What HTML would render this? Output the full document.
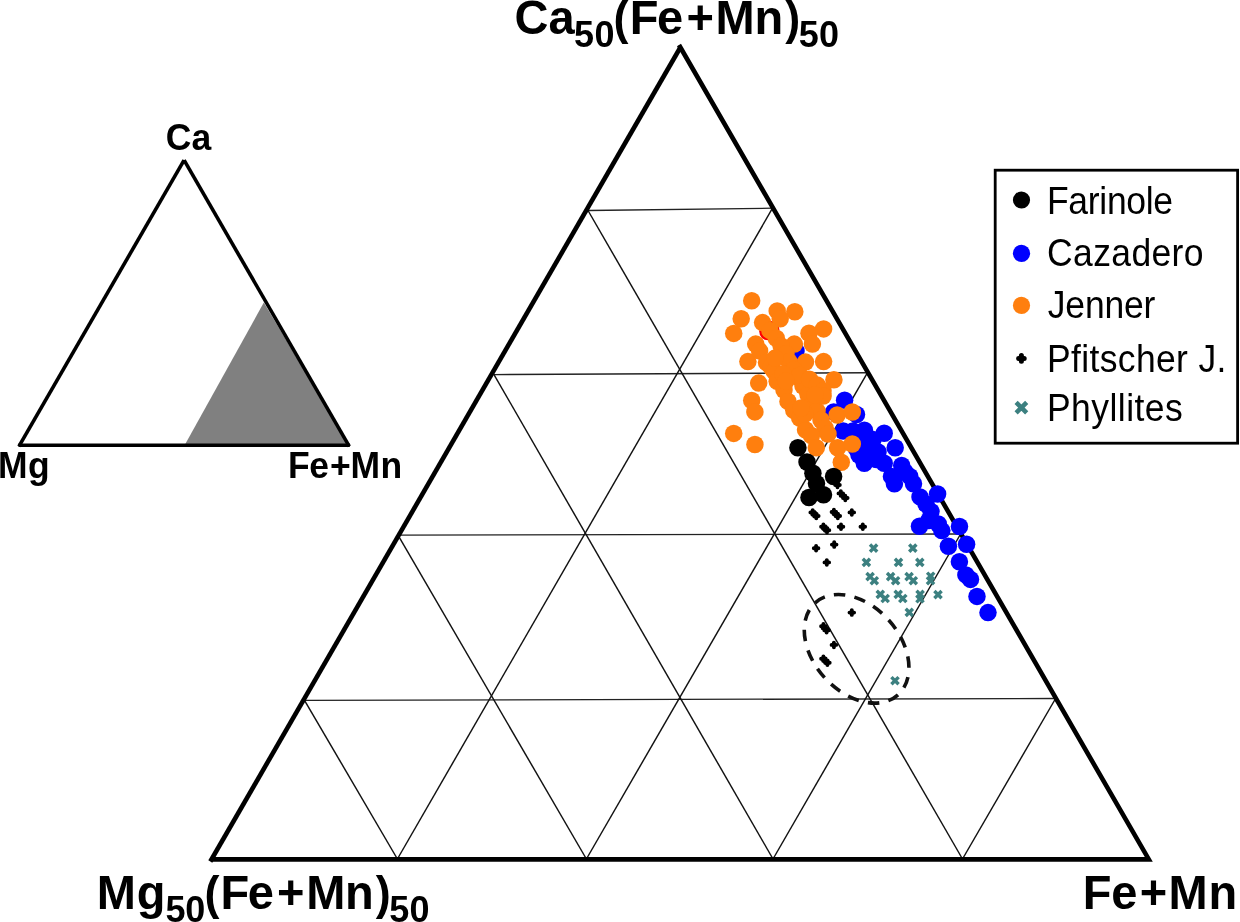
<!DOCTYPE html>
<html lang="en"><head><meta charset="utf-8"><title>Ternary diagram</title>
<style>html,body{margin:0;padding:0;background:#fff}svg{display:block}</style></head>
<body>
<svg width="1240" height="922" viewBox="0 0 1240 922">
<rect width="1240" height="922" fill="#fff"/>
<polygon points="184.6,445.3 263.8,302.6 348.8,445.3" fill="#808080"/>
<g stroke="#000" stroke-width="3.6" fill="none" stroke-linecap="butt">
<polyline points="18.5,445.3 349.8,445.3" />
<polyline points="18.9,446.3 184.1,160.2" />
<polyline points="184.1,160.2 349.3,446.3" />
</g>
<g stroke="#222" stroke-width="1.35" fill="none">
<line x1="304.5" y1="700.3" x2="1055.6" y2="698.5"/>
<line x1="398" y1="535.1" x2="960.6" y2="534"/>
<line x1="494" y1="374.6" x2="867.5" y2="372.7"/>
<line x1="588" y1="210.5" x2="772.5" y2="208.2"/>
</g>
<g stroke="#111" stroke-width="1.45" fill="none">
<line x1="304.5" y1="700.3" x2="397.4" y2="859"/>
<line x1="398" y1="535.1" x2="586.4" y2="859"/>
<line x1="494" y1="374.6" x2="773" y2="859"/>
<line x1="588" y1="210.5" x2="962.5" y2="859"/>
<line x1="1055.6" y1="698.5" x2="962.5" y2="859"/>
<line x1="960.6" y1="534" x2="773" y2="859"/>
<line x1="867.5" y1="372.7" x2="586.4" y2="859"/>
<line x1="772.5" y1="208.2" x2="397.4" y2="859"/>
</g>
<g stroke="#000" stroke-width="4.6" fill="none" stroke-linejoin="miter" stroke-miterlimit="10">
<polyline points="211.0,859.4 1148.8,859.4 679.0,45.0"/>
<line x1="210.3" y1="861.5" x2="680.9" y2="46.5"/>
</g>
<g fill="#f00"><circle cx="767.8" cy="331.6" r="8.6"/><circle cx="770.8" cy="329.6" r="8.6"/><circle cx="795.2" cy="367.6" r="8.6"/></g>
<g fill="#0000ff">
<circle cx="796" cy="351" r="8.75"/>
<circle cx="844.6" cy="400.2" r="8.75"/>
<circle cx="856.5" cy="414.5" r="8.75"/>
<circle cx="853" cy="431" r="8.75"/>
<circle cx="833.7" cy="411.9" r="8.75"/>
<circle cx="843.2" cy="431" r="8.75"/>
<circle cx="864.4" cy="430.3" r="8.75"/>
<circle cx="884.2" cy="433.2" r="8.75"/>
<circle cx="871" cy="444.2" r="8.75"/>
<circle cx="895.2" cy="447.8" r="8.75"/>
<circle cx="856.4" cy="448.6" r="8.75"/>
<circle cx="863" cy="440.5" r="8.75"/>
<circle cx="864.3" cy="463.2" r="8.75"/>
<circle cx="873" cy="439.5" r="8.75"/>
<circle cx="869" cy="457" r="8.75"/>
<circle cx="876.5" cy="459.5" r="8.75"/>
<circle cx="859" cy="455" r="8.75"/>
<circle cx="884.2" cy="463.2" r="8.75"/>
<circle cx="901.7" cy="465.4" r="8.75"/>
<circle cx="891.5" cy="476.4" r="8.75"/>
<circle cx="909.8" cy="476.4" r="8.75"/>
<circle cx="894.4" cy="483.7" r="8.75"/>
<circle cx="913.5" cy="483.7" r="8.75"/>
<circle cx="920" cy="496.9" r="8.75"/>
<circle cx="937.6" cy="494" r="8.75"/>
<circle cx="931" cy="511.5" r="8.75"/>
<circle cx="919.5" cy="526.2" r="8.75"/>
<circle cx="928.8" cy="520.5" r="8.75"/>
<circle cx="938.3" cy="524" r="8.75"/>
<circle cx="959.5" cy="526.5" r="8.75"/>
<circle cx="941.8" cy="530.6" r="8.75"/>
<circle cx="948.4" cy="546.2" r="8.75"/>
<circle cx="966.6" cy="544.3" r="8.75"/>
<circle cx="959.4" cy="561.8" r="8.75"/>
<circle cx="965.9" cy="574.9" r="8.75"/>
<circle cx="970.5" cy="579.4" r="8.75"/>
<circle cx="977" cy="596.4" r="8.75"/>
<circle cx="988" cy="612.6" r="8.75"/>
<circle cx="878" cy="452" r="8.75"/>
<circle cx="905" cy="472" r="8.75"/>
<circle cx="926" cy="504" r="8.75"/>
</g>
<g fill="#ff7f0e">
<circle cx="751.7" cy="300.8" r="8.75"/>
<circle cx="741.2" cy="318.7" r="8.75"/>
<circle cx="733.7" cy="333.4" r="8.75"/>
<circle cx="777.2" cy="310.9" r="8.75"/>
<circle cx="794.8" cy="311.8" r="8.75"/>
<circle cx="780.2" cy="318.7" r="8.75"/>
<circle cx="823.6" cy="328.9" r="8.75"/>
<circle cx="809" cy="333.3" r="8.75"/>
<circle cx="812.4" cy="344.1" r="8.75"/>
<circle cx="794.3" cy="344.1" r="8.75"/>
<circle cx="747.9" cy="361.6" r="8.75"/>
<circle cx="805.5" cy="362.1" r="8.75"/>
<circle cx="823.6" cy="361.6" r="8.75"/>
<circle cx="833.9" cy="379.7" r="8.75"/>
<circle cx="758.7" cy="383.1" r="8.75"/>
<circle cx="751.7" cy="400.5" r="8.75"/>
<circle cx="754.9" cy="411.9" r="8.75"/>
<circle cx="733.7" cy="433.4" r="8.75"/>
<circle cx="754.9" cy="444.5" r="8.75"/>
<circle cx="837.6" cy="447.7" r="8.75"/>
<circle cx="852.3" cy="444" r="8.75"/>
<circle cx="841.3" cy="462.2" r="8.75"/>
<circle cx="837.2" cy="415" r="8.75"/>
<circle cx="852.3" cy="412" r="8.75"/>
<circle cx="762.6" cy="322.6" r="8.75"/>
<circle cx="769.9" cy="330.4" r="8.75"/>
<circle cx="776.3" cy="338.2" r="8.75"/>
<circle cx="781.1" cy="346" r="8.75"/>
<circle cx="786" cy="353.8" r="8.75"/>
<circle cx="789" cy="361.6" r="8.75"/>
<circle cx="793.8" cy="369.5" r="8.75"/>
<circle cx="798" cy="377" r="8.75"/>
<circle cx="803" cy="386" r="8.75"/>
<circle cx="808" cy="394.5" r="8.75"/>
<circle cx="813" cy="403" r="8.75"/>
<circle cx="817" cy="411" r="8.75"/>
<circle cx="821" cy="420" r="8.75"/>
<circle cx="825" cy="428" r="8.75"/>
<circle cx="828" cy="434" r="8.75"/>
<circle cx="755.7" cy="344.1" r="8.75"/>
<circle cx="759.6" cy="350.9" r="8.75"/>
<circle cx="766.5" cy="362.6" r="8.75"/>
<circle cx="771" cy="367" r="8.75"/>
<circle cx="774.3" cy="371.4" r="8.75"/>
<circle cx="777.2" cy="381.2" r="8.75"/>
<circle cx="784" cy="390" r="8.75"/>
<circle cx="788" cy="401.4" r="8.75"/>
<circle cx="793.8" cy="410.2" r="8.75"/>
<circle cx="799.7" cy="418" r="8.75"/>
<circle cx="805.5" cy="429.7" r="8.75"/>
<circle cx="811.4" cy="435.5" r="8.75"/>
<circle cx="816.3" cy="447.8" r="8.75"/>
<circle cx="799.7" cy="375.3" r="8.75"/>
<circle cx="809.5" cy="379.2" r="8.75"/>
<circle cx="817.3" cy="385.1" r="8.75"/>
<circle cx="823" cy="391" r="8.75"/>
<circle cx="823.1" cy="396" r="8.75"/>
<circle cx="783" cy="374" r="8.75"/>
<circle cx="786" cy="381" r="8.75"/>
<circle cx="775.1" cy="358.1" r="8.75"/>
<circle cx="815" cy="395" r="8.75"/>
<circle cx="805" cy="414" r="8.75"/>
<circle cx="801" cy="408" r="8.75"/>
</g>
<g fill="#000">
<circle cx="797.9" cy="447.7" r="8.75"/>
<circle cx="807" cy="462" r="8.75"/>
<circle cx="812.9" cy="473.2" r="8.75"/>
<circle cx="816.5" cy="483.5" r="8.75"/>
<circle cx="809" cy="497.5" r="8.75"/>
<circle cx="823.5" cy="494.7" r="8.75"/>
<circle cx="833.6" cy="476.5" r="8.75"/>
</g>
<path d="M835.2,485.0H839.8M837.5,482.7V487.3M838.5,493.4H843.1M840.8,491.1V495.7M840.7,495.7H845.3M843.0,493.4V498.0M843.0,498.0H847.6M845.3,495.7V500.3M810.4,512.4H815.0M812.7,510.1V514.7M812.2,514.2H816.8M814.5,511.9V516.5M814.0,516.0H818.6M816.3,513.7V518.3M831.6,512.0H836.2M833.9,509.7V514.3M833.5,514.0H838.1M835.8,511.7V516.3M835.5,516.0H840.1M837.8,513.7V518.3M849.5,512.4H854.1M851.8,510.1V514.7M821.1,526.7H825.7M823.4,524.4V529.0M822.9,528.5H827.5M825.2,526.2V530.8M824.7,530.3H829.3M827.0,528.0V532.6M838.7,526.7H843.3M841.0,524.4V529.0M860.5,526.7H865.1M862.8,524.4V529.0M813.8,548.2H818.4M816.1,545.9V550.5M831.9,544.6H836.5M834.2,542.3V546.9M824.5,562.4H829.1M826.8,560.1V564.7M849.5,612.6H854.1M851.8,610.3V614.9M821.1,626.2H825.7M823.4,623.9V628.5M822.7,628.2H827.3M825.0,625.9V630.5M824.3,630.2H828.9M826.6,627.9V632.5M831.6,644.9H836.2M833.9,642.6V647.2M821.1,658.7H825.7M823.4,656.4V661.0M823.1,660.7H827.7M825.4,658.4V663.0M825.1,662.8H829.7M827.4,660.5V665.1" stroke="#000" stroke-width="3.9" stroke-linecap="round" fill="none"/>
<path d="M870.0,544.5L877.2,551.7M870.0,551.7L877.2,544.5M909.2,544.5L916.4,551.7M909.2,551.7L916.4,544.5M862.8,558.8L870.0,566.0M862.8,566.0L870.0,558.8M894.9,558.8L902.1,566.0M894.9,566.0L902.1,558.8M916.2,558.8L923.4,566.0M916.2,566.0L923.4,558.8M866.5,573.0L873.7,580.2M866.5,580.2L873.7,573.0M870.7,577.1L877.9,584.3M870.7,584.3L877.9,577.1M887.0,573.0L894.2,580.2M887.0,580.2L894.2,573.0M892.0,577.1L899.2,584.3M892.0,584.3L899.2,577.1M905.5,573.0L912.7,580.2M905.5,580.2L912.7,573.0M909.7,577.1L916.9,584.3M909.7,584.3L916.9,577.1M927.1,572.6L934.3,579.8M927.1,579.8L934.3,572.6M926.9,577.1L934.1,584.3M926.9,584.3L934.1,577.1M876.7,590.8L883.9,598.0M876.7,598.0L883.9,590.8M881.6,594.9L888.8,602.1M881.6,602.1L888.8,594.9M894.6,590.8L901.8,598.0M894.6,598.0L901.8,590.8M899.2,594.9L906.4,602.1M899.2,602.1L906.4,594.9M916.5,590.8L923.7,598.0M916.5,598.0L923.7,590.8M916.4,595.2L923.6,602.4M916.4,602.4L923.6,595.2M934.4,591.0L941.6,598.2M934.4,598.2L941.6,591.0M905.7,608.8L912.9,616.0M905.7,616.0L912.9,608.8M891.4,677.1L898.6,684.3M891.4,684.3L898.6,677.1" stroke="#3c8080" stroke-width="3.4" stroke-linecap="butt" fill="none"/>
<ellipse cx="856.6" cy="648.8" rx="61.9" ry="43.1" transform="rotate(48 856.6 648.8)" fill="none" stroke="#111" stroke-width="3.6" pathLength="160" stroke-dasharray="5.5 4.5"/>
<rect x="995.2" y="170.2" width="242.4" height="273" fill="#fff" stroke="#000" stroke-width="2.8"/>
<circle cx="1021.5" cy="200" r="8.6" fill="#000"/>
<circle cx="1021.5" cy="253.3" r="8.6" fill="#0000ff"/>
<circle cx="1021.5" cy="305.4" r="8.6" fill="#ff7f0e"/>
<path d="M1018.6,358.4H1024.2M1021.4,355.6V361.2" stroke="#000" stroke-width="5" stroke-linecap="round" fill="none"/>
<path d="M1016.1,402.3L1026.7,412.9M1016.1,412.9L1026.7,402.3" stroke="#3c8080" stroke-width="4.5" fill="none"/>
<g transform="scale(1,1.069)" font-family="'Liberation Sans', sans-serif" font-size="35.5" fill="#000">
<text x="1047.0" y="199.91" textLength="126.1" lengthAdjust="spacing">Farinole</text>
<text x="1047.05" y="249.11" textLength="156.5" lengthAdjust="spacing">Cazadero</text>
<text x="1047.8" y="297.38" textLength="107.6" lengthAdjust="spacing">Jenner</text>
<text x="1047.0" y="347.80" textLength="179.4" lengthAdjust="spacing">Pfitscher J.</text>
<text x="1047.0" y="393.92" textLength="135.8" lengthAdjust="spacing">Phyllites</text>
</g>
<g transform="scale(1,1.028)" font-family="'Liberation Sans', sans-serif" font-weight="bold" fill="#000">
<text font-size="47"><tspan x="514.6 548.5" y="32.59">Ca</tspan><tspan x="574.1 594.4" y="45.33" font-size="36">50</tspan><tspan x="613.5" y="32.59" font-size="45">(</tspan><tspan x="629.8 657.1 686.5 715.6 754.4" y="32.59">Fe+Mn</tspan><tspan x="785.2" y="32.59" font-size="45">)</tspan><tspan x="798.7 819" y="45.33" font-size="36">50</tspan></text>
</g>
<g transform="scale(1,1.028)" font-family="'Liberation Sans', sans-serif" font-weight="bold" fill="#000">
<text font-size="47"><tspan x="96.8 136.7" y="883.95">Mg</tspan><tspan x="165.4 185.2" y="896.89" font-size="36">50</tspan><tspan x="204.4" y="883.95" font-size="45">(</tspan><tspan x="220.4 247.8 277.1 306.2 345" y="883.95">Fe+Mn</tspan><tspan x="375.8" y="883.95" font-size="45">)</tspan><tspan x="389.3 409.6" y="896.89" font-size="36">50</tspan></text>
</g>
<g transform="scale(1,1.028)" font-family="'Liberation Sans', sans-serif" font-weight="bold" fill="#000">
<text font-size="47"><tspan x="1082.8 1111.3 1139.7 1168.5 1208.5" y="883.95">Fe+Mn</tspan></text>
</g>
<g transform="scale(1,1.045)" font-family="'Liberation Sans', sans-serif" font-weight="bold" fill="#000">
<text font-size="35.5"><tspan x="165.7 191.5" y="144.02">Ca</tspan></text>
</g>
<g transform="scale(1,1.045)" font-family="'Liberation Sans', sans-serif" font-weight="bold" fill="#000">
<text font-size="35.5"><tspan x="-2.1 28" y="457.42">Mg</tspan></text>
</g>
<g transform="scale(1,1.04)" font-family="'Liberation Sans', sans-serif" font-weight="bold" fill="#000">
<text font-size="35.5"><tspan x="288.1 309.2 329.9 350.5 380.4" y="459.62">Fe+Mn</tspan></text>
</g>
</svg>
</body></html>
